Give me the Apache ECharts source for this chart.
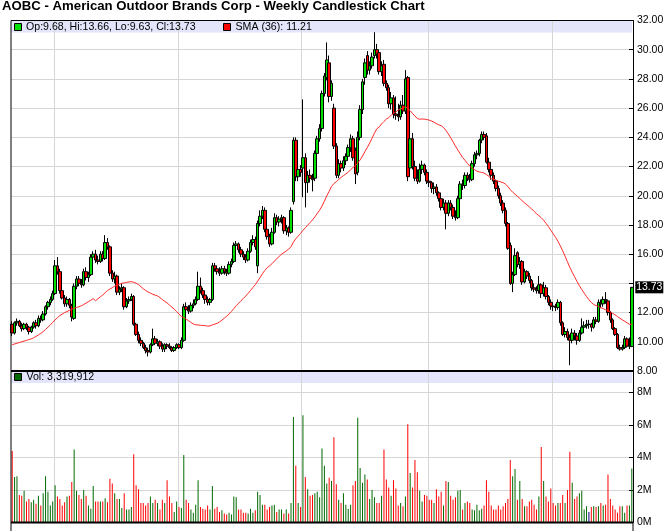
<!DOCTYPE html>
<html><head><meta charset="utf-8">
<script src="https://cdn.jsdelivr.net/npm/echarts@6/dist/echarts.min.js"></script>
<style>html,body{margin:0;padding:0;background:#fff}#c{width:672px;height:531px}</style>
</head><body><div id="c"></div>
<script>
const opens = [11.2,10.6,11.3,11.4,11.1,10.9,11.2,11.0,10.7,11.0, 11.3,11.1,11.6,11.5,11.9,12.4,12.7,12.9,13.3,15.2, 14.8,13.5,13.0,12.6,12.9,12.5,11.6,13.8,14.3,14.0, 13.9,14.8,14.4,14.6,15.8,16.0,15.6,15.5,16.0,15.7, 16.8,16.5,14.7,14.3,14.5,13.4,13.6,13.7,12.4,12.8, 12.9,13.1,11.2,10.5,10.1,9.9,9.6,9.4,9.3,9.8, 10.2,9.9,10.0,9.7,9.5,9.8,9.7,9.6,9.4,9.6, 9.8,9.6,10.1,12.4,12.2,12.1,12.5,12.6,12.9,13.8, 13.5,13.2,12.9,12.7,12.9,15.2,15.0,14.8,14.7,15.0, 14.8,14.7,15.3,15.5,16.6,16.7,16.3,16.0,15.8,15.6, 16.2,16.8,17.0,15.2,18.1,18.6,19.0,17.7,17.2,16.7, 17.5,18.5,18.2,18.4,18.5,17.6,17.8,17.5,19.6,23.8, 21.3,21.8,21.9,22.6,20.9,21.4,21.2,21.2,22.9,23.9, 24.6,27.0,28.1,29.1,26.8,26.0,23.4,21.4,22.2,21.9, 22.4,22.7,23.3,23.9,23.1,21.6,24.0,25.9,28.1,29.6, 28.6,28.9,29.6,30.0,29.8,28.5,29.0,27.7,27.4,26.3, 26.7,25.6,25.5,25.4,26.2,25.8,28.1,21.9,23.9,22.0, 21.2,21.0,21.8,22.1,21.6,21.0,20.9,20.5,20.6,20.2, 19.8,19.2,19.5,18.8,19.5,19.2,18.6,18.5,19.8,20.8, 20.7,21.4,21.2,21.1,22.2,22.8,22.9,23.8,24.2,24.1, 22.3,21.8,21.4,21.0,20.5,20.0,19.5,19.0,18.1,16.6, 14.0,14.6,16.1,15.3,15.5,14.1,14.8,14.5,14.2,13.7, 13.6,13.5,13.9,13.3,13.7,13.1,12.7,12.45,12.4,12.35, 12.7,11.3,10.5,10.7,10.3,10.1,10.6,10.4,10.1,10.6, 11.0,11.1,11.2,11.2,11.0,11.5,11.4,12.7,12.6,12.9, 12.8,12.0,11.5,10.9,10.5,9.6,9.5,9.6,10.2,9.7, 9.68];
const highs = [11.4,11.4,11.6,11.5,11.3,11.3,11.3,11.1,11.1,11.4, 11.5,11.8,11.8,12.1,12.5,12.8,13.1,13.5,15.6,15.8, 15.0,13.7,13.2,13.1,13.0,12.6,14.0,14.5,14.5,14.3, 15.0,15.1,14.8,16.0,16.2,16.3,15.9,16.2,16.2,17.3, 17.1,16.6,14.9,14.8,14.6,13.8,14.0,13.8,13.0,13.1, 13.3,13.2,11.3,10.7,10.3,10.0,9.8,9.6,9.9,10.9, 10.4,10.2,10.1,9.9,9.9,9.9,9.9,9.7,9.7,9.9, 9.9,10.3,12.6,12.7,12.5,12.7,12.9,13.1,14.8,14.4, 13.7,13.4,13.1,13.0,15.4,15.4,15.2,15.1,15.2,15.2, 15.0,15.5,15.7,16.8,16.9,16.8,16.5,16.2,16.0,16.4, 17.0,17.3,17.2,18.3,19.0,19.3,19.2,18.0,17.4,17.8, 18.8,18.7,18.6,18.7,18.6,18.0,17.9,19.2,24.0,24.0, 22.2,22.1,26.6,22.9,21.7,21.8,21.5,23.1,24.1,24.9, 27.2,28.4,30.5,29.6,27.9,26.3,23.6,22.5,22.4,22.7, 22.9,23.5,24.2,24.1,23.3,24.4,26.2,28.0,29.4,29.9, 29.2,29.8,31.2,30.4,30.0,29.2,29.3,27.9,27.6,27.1, 26.9,26.8,26.3,26.5,26.9,28.6,28.2,24.9,24.3,22.4, 21.8,22.2,22.4,22.2,21.8,21.3,21.0,20.9,20.8,20.3, 19.9,19.8,19.7,19.7,19.7,19.4,19.0,20.0,21.0,21.1, 21.6,21.6,21.5,22.4,23.0,23.1,23.9,24.4,24.4,24.3, 22.6,22.0,21.6,21.1,20.7,20.2,19.7,19.2,18.2,16.8, 14.8,16.4,16.2,15.8,15.6,15.0,14.9,14.7,14.3,14.0, 13.8,14.5,14.0,14.1,13.9,13.2,12.9,12.6,12.6,12.9, 12.8,11.4,11.0,10.9,10.5,10.9,10.8,10.6,10.8,11.6, 11.4,11.5,11.5,11.3,11.7,11.7,12.9,12.9,13.1,13.4, 12.9,12.1,11.6,11.0,10.6,9.8,9.8,10.4,10.3,10.3, 13.66];
const lows = [10.4,10.5,11.1,11.0,10.7,10.8,10.8,10.5,10.6,10.9, 10.9,11.0,11.3,11.4,11.8,12.2,12.5,12.8,13.2,14.6, 13.3,12.9,12.4,12.4,12.3,11.4,11.5,13.6,13.8,13.7, 13.8,14.2,14.1,14.5,15.5,15.4,15.3,15.4,15.5,15.6, 16.3,14.5,14.1,14.0,13.2,13.2,13.4,12.2,12.3,12.6, 12.8,11.1,10.4,9.9,9.7,9.5,9.2,9.0,9.2,9.7, 9.8,9.7,9.5,9.3,9.3,9.5,9.5,9.3,9.3,9.5, 9.5,9.5,10.0,12.0,11.9,12.0,12.3,12.5,12.8,13.3, 13.0,12.6,12.5,12.5,12.8,14.8,14.6,14.5,14.6,14.6, 14.5,14.6,15.1,15.4,16.2,16.1,15.8,15.6,15.4,15.5, 16.1,16.6,16.3,14.7,17.9,18.4,17.5,17.0,16.5,16.6, 17.4,18.0,17.9,18.1,17.4,17.3,17.2,17.4,19.4,21.0, 21.0,21.3,19.9,19.2,20.2,20.9,20.3,21.0,22.7,23.7, 24.4,26.8,27.9,26.4,26.5,23.2,21.2,21.2,21.6,21.7, 22.1,22.5,23.0,22.4,20.8,21.4,23.8,25.6,27.6,28.3, 28.3,28.7,29.4,29.4,28.3,28.2,27.5,27.2,26.0,25.9, 25.3,25.2,25.1,25.2,25.6,25.6,21.0,21.6,21.8,21.0, 20.8,20.9,21.5,21.4,20.8,20.6,20.2,20.1,20.0,19.6, 19.0,19.0,17.7,18.6,19.0,18.4,18.3,18.4,19.7,20.4, 20.5,21.0,20.9,21.0,22.0,22.5,22.7,23.6,23.8,22.2, 21.6,21.1,20.8,20.3,19.8,19.3,18.8,17.9,16.3,13.9, 13.4,14.5,15.1,15.0,13.9,14.0,14.3,14.0,13.5,13.4, 13.3,13.3,13.0,13.1,12.9,12.5,12.2,12.1,12.1,12.2, 11.1,10.4,10.3,10.1,8.4,9.9,10.1,9.8,10.0,10.5, 10.8,10.9,10.9,10.7,10.9,11.2,11.3,12.3,12.4,12.6, 11.8,11.3,10.8,10.4,9.5,9.4,9.4,9.5,9.6,9.5, 9.63];
const closes = [10.6,11.3,11.4,11.1,10.9,11.2,11.0,10.7,11.0,11.3, 11.1,11.6,11.5,11.9,12.4,12.7,12.9,13.3,15.2,14.8, 13.5,13.0,12.6,12.9,12.5,11.7,13.8,14.3,14.0,13.9, 14.8,14.4,14.6,15.8,16.0,15.6,15.5,16.0,15.7,16.8, 16.5,14.7,14.3,14.5,13.4,13.6,13.7,12.4,12.8,12.9, 13.1,11.2,10.5,10.1,9.9,9.6,9.4,9.3,9.8,10.2, 9.9,10.0,9.7,9.5,9.8,9.7,9.6,9.4,9.6,9.8, 9.6,10.1,12.4,12.2,12.1,12.5,12.6,12.9,13.8,13.5, 13.2,12.9,12.7,12.9,15.2,15.0,14.8,14.7,15.0,14.8, 14.7,15.3,15.5,16.6,16.7,16.3,16.0,15.8,15.6,16.2, 16.8,17.0,16.5,18.1,18.6,19.0,17.7,17.2,16.7,17.5, 18.5,18.2,18.4,18.5,17.6,17.8,17.5,19.0,23.8,21.3, 21.8,21.6,22.6,20.9,21.4,21.2,21.1,22.9,23.9,24.6, 27.0,28.2,29.3,26.8,27.7,23.4,21.4,22.2,21.9,22.4, 22.7,23.3,23.9,22.6,21.5,24.0,25.9,27.8,29.1,28.6, 28.9,29.5,30.0,29.7,28.5,28.9,27.7,27.4,26.3,26.7, 25.6,25.5,25.4,26.2,25.8,28.0,21.3,23.9,22.0,21.2, 21.0,21.8,22.1,21.6,21.0,20.9,20.5,20.6,20.2,19.8, 19.2,19.5,18.8,19.5,19.2,18.6,18.5,19.8,20.8,20.7, 21.4,21.2,21.1,22.2,22.8,22.9,23.8,24.2,24.0,22.3, 21.8,21.4,21.0,20.5,20.0,19.5,19.0,18.1,16.4,14.0, 14.6,15.9,15.3,15.5,14.1,14.8,14.5,14.2,13.7,13.6, 13.5,13.9,13.3,13.7,13.1,12.7,12.45,12.4,12.35,12.7, 11.3,10.5,10.7,10.3,10.1,10.6,10.4,10.1,10.6,11.0, 11.1,11.2,11.2,11.0,11.5,11.4,12.7,12.6,12.9,12.8, 12.0,11.5,10.9,10.5,9.6,9.5,9.6,10.2,9.7,9.72, 13.73];
const volumesM = [4.4,2.8,2.85,1.7,1.65,1.95,1.3,1.45,1.25,1.4, 1.15,1.65,1.05,1.8,2.85,1.9,1.05,1.3,2.3,1.6, 1.45,1.05,1.25,1.6,1.65,2.5,4.5,1.95,1.7,1.45, 2.0,1.65,1.05,0.85,2.25,1.3,1.3,1.3,1.3,1.5, 1.25,2.7,2.4,1.8,1.45,1.45,0.9,1.8,0.8,0.8, 0.95,4.2,2.3,2.05,1.2,1.2,1.05,1.2,1.6,1.2, 1.4,1.2,0.8,1.4,1.2,2.6,1.6,1.2,0.65,1.3, 0.95,0.9,4.15,1.4,1.2,0.8,0.6,1.1,2.6,0.95, 0.85,0.8,1.05,0.8,2.25,0.85,0.95,0.65,0.75,0.55, 0.5,0.6,0.5,1.6,1.55,0.8,0.8,0.6,0.6,0.55, 0.85,0.6,0.75,1.9,1.7,1.1,1.1,0.8,0.95,1.05, 1.1,0.65,0.8,0.8,0.55,0.8,0.55,1.2,6.5,3.5, 1.2,0.95,6.6,2.8,2.05,1.65,1.7,1.8,1.9,1.55, 4.55,3.5,2.4,2.75,2.55,5.25,2.35,1.4,1.2,1.8, 1.1,0.85,1.1,2.3,2.55,6.45,3.35,2.45,2.95,2.65, 1.45,2.0,1.55,1.2,1.2,1.65,4.5,2.65,2.15,1.65, 2.6,2.1,1.05,1.2,1.0,1.6,6.05,3.05,2.15,3.85, 3.1,1.95,1.3,1.7,1.65,1.4,1.4,1.2,2.05,1.6, 1.9,1.05,2.55,2.5,1.65,1.4,1.55,1.95,2.0,0.8, 1.2,1.3,1.2,0.8,0.75,1.1,0.75,0.85,1.05,2.6, 1.9,1.05,0.8,0.8,1.05,0.8,1.0,1.2,1.45,3.85, 2.85,3.3,1.4,2.55,1.45,1.0,1.0,1.3,1.4,1.1, 0.8,1.6,4.65,2.55,1.6,1.3,2.1,1.2,1.05,1.2, 1.2,1.7,1.2,2.0,4.35,2.45,1.45,1.6,1.8,1.95, 0.8,1.0,0.65,0.95,1.0,0.95,1.0,1.2,1.05,1.1, 2.95,1.45,1.05,0.8,0.6,1.0,1.0,0.6,1.05,1.05, 3.319912];
// SMA(36) values for the first 35 weeks (earlier closes are not shown)
const smaLead = [9.8,9.85,9.9,9.95,10.0,10.05,10.1,10.15,10.2,10.27, 10.37,10.47,10.57,10.7,10.85,11.0,11.15,11.33,11.5,11.65, 11.8,11.9,12.0,12.07,12.15,12.22,12.3,12.35,12.4,12.47, 12.55,12.65,12.75,12.85,12.95];
const priceTicks = [8,10,12,14,16,18,20,22,24,26,28,30,32];
const volTicksM = [0,2,4,6,8];
const firstWeekUTC = Date.UTC(2013, 7, 30);
const SMA_N = 36;

const weeks = closes.map((_, i) => new Date(firstWeekUTC + i * 7 * 864e5).toISOString().slice(0, 10));
const yearStarts = new Set(weeks.map((w, i) => (i > 0 && w.slice(0, 4) !== weeks[i - 1].slice(0, 4)) ? i : -1).filter(i => i >= 0));
const sma = closes.map((c, i) => i < SMA_N - 1 ? smaLead[i] : closes.slice(i - SMA_N + 1, i + 1).reduce((a, b) => a + b, 0) / SMA_N);
const ohlc = closes.map((c, i) => [opens[i], c, lows[i], highs[i]]);
const UP = '#00e000', DN = '#ff0000', VUP = '#006a00', VDN = '#ff0000';
const volData = volumesM.map((v, i) => {
  const prev = i > 0 ? closes[i - 1] : opens[0];
  const c = closes[i];
  return { value: v, itemStyle: { color: c > prev ? VUP : (c < prev ? VDN : '#000080') } };
});
const last = closes.length - 1;
const fmtInt = n => String(Math.round(n)).replace(/\B(?=(\d{3})+(?!\d))/g, ',');

// layout
const L = 11, R = 633, T = 20.5, PB = 371, VB = 522.5;
const volMax = 8 * (VB - PB) / (VB - 392.5);
const FONT = '"Liberation Sans", Arial, sans-serif';
const GRID = '#d6d6d6';
const LEG_FONT = '10.6px ' + FONT;

const chart = echarts.init(document.getElementById('c'), null, { renderer: 'canvas' });
const xCommon = {
  type: 'category', data: weeks, boundaryGap: true,
  axisLine: { show: false }, axisTick: { show: false }, axisLabel: { show: false },
  splitLine: { show: true, interval: (i) => yearStarts.has(i), lineStyle: { color: GRID, width: 1 } }
};
chart.setOption({
  animation: false,
  backgroundColor: '#fff',
  title: {
    text: 'AOBC - American Outdoor Brands Corp - Weekly Candlestick Chart',
    left: 2, top: 0, padding: 0,
    textStyle: { fontFamily: FONT, fontSize: 13.2, fontWeight: 'bold', color: '#000' }
  },
  grid: [
    { left: L, top: T, width: R - L, height: PB - T },
    { left: L, top: PB, width: R - L, height: VB - PB }
  ],
  xAxis: [Object.assign({ gridIndex: 0 }, xCommon), Object.assign({ gridIndex: 1 }, xCommon)],
  yAxis: [
    {
      gridIndex: 0, type: 'value', position: 'right', min: priceTicks[0], max: priceTicks[priceTicks.length - 1], interval: 2,
      axisLine: { show: true, lineStyle: { color: '#000', width: 1 } },
      axisTick: { show: true, inside: true, length: 4, lineStyle: { color: '#000' } },
      axisLabel: { color: '#000', fontFamily: FONT, fontSize: 10.5, margin: 4,
        formatter: v => Math.abs(v - closes[last]) < 0.6 ? '' : v.toFixed(2) },
      splitLine: { show: true, lineStyle: { color: GRID } }
    },
    {
      gridIndex: 1, type: 'value', position: 'right', min: 0, max: volMax, interval: 2,
      axisLine: { show: true, lineStyle: { color: '#000', width: 1 } },
      axisTick: { show: true, inside: true, length: 4, lineStyle: { color: '#000' } },
      axisLabel: { color: '#000', fontFamily: FONT, fontSize: 10.5, margin: 4, showMaxLabel: false,
        formatter: v => volTicksM.includes(v) ? v + 'M' : '' },
      splitLine: { show: true, lineStyle: { color: GRID } }
    }
  ],
  series: [
    {
      type: 'candlestick', xAxisIndex: 0, yAxisIndex: 0, data: ohlc, barWidth: 3,
      itemStyle: { color: UP, color0: DN, borderColor: '#000', borderColor0: '#000', borderWidth: 1 },
      markPoint: {
        symbol: 'rect', symbolSize: [28, 12], symbolOffset: [17.5, 0], silent: true,
        itemStyle: { color: '#000' },
        label: { show: true, color: '#fff', fontFamily: FONT, fontSize: 10.5, formatter: () => closes[last].toFixed(2) },
        data: [{ coord: [last, closes[last]] }]
      }
    },
    {
      type: 'line', xAxisIndex: 0, yAxisIndex: 0, data: sma, symbol: 'none', smooth: false,
      lineStyle: { color: '#ff2a2a', width: 1 }, z: 3
    },
    {
      type: 'bar', xAxisIndex: 1, yAxisIndex: 1, data: volData, barWidth: 1
    }
  ],
  graphic: [
    { type: 'rect', z: -1, silent: true, shape: { x: L, y: T, width: R - L - 1, height: 12 }, style: { fill: '#e4e4fa' } },
    { type: 'rect', z: -1, silent: true, shape: { x: L, y: PB, width: R - L - 1, height: 12 }, style: { fill: '#e4e4fa' } },
    { type: 'rect', z: 50, shape: { x: 14.5, y: 23.5, width: 7, height: 7 }, style: { fill: UP, stroke: '#000', lineWidth: 1 } },
    { type: 'text', z: 50, x: 26, y: 27, style: { text: `Op:${opens[last].toFixed(2)}, Hi:${highs[last].toFixed(2)}, Lo:${lows[last].toFixed(2)}, Cl:${closes[last].toFixed(2)}`, fill: '#000', font: LEG_FONT, verticalAlign: 'middle' } },
    { type: 'rect', z: 50, shape: { x: 223.5, y: 23.5, width: 7, height: 7 }, style: { fill: '#ff0000', stroke: '#000', lineWidth: 1 } },
    { type: 'text', z: 50, x: 235.5, y: 27, style: { text: `SMA (36): ${sma[last].toFixed(2)}`, fill: '#000', font: LEG_FONT, verticalAlign: 'middle' } },
    { type: 'rect', z: 50, shape: { x: 14.5, y: 373.5, width: 7, height: 7 }, style: { fill: '#006a00', stroke: '#000', lineWidth: 1 } },
    { type: 'text', z: 50, x: 26.5, y: 377.5, style: { text: `Vol: ${fmtInt(volumesM[last] * 1e6)}`, fill: '#000', font: LEG_FONT, verticalAlign: 'middle' } },
    { type: 'line', z: 60, shape: { x1: L, y1: T, x2: R, y2: T }, style: { stroke: '#000', lineWidth: 1 } },
    { type: 'line', z: 60, shape: { x1: L, y1: T, x2: L, y2: 531 }, style: { stroke: '#000', lineWidth: 1 } },
    { type: 'line', z: 60, shape: { x1: R, y1: VB, x2: R, y2: 531 }, style: { stroke: '#000', lineWidth: 1 } },
    { type: 'line', z: 60, shape: { x1: L, y1: PB, x2: R, y2: PB }, style: { stroke: '#000', lineWidth: 2 } },
    { type: 'line', z: 60, shape: { x1: L, y1: VB, x2: R, y2: VB }, style: { stroke: '#000', lineWidth: 2 } }
  ]
});
</script>
</body></html>
